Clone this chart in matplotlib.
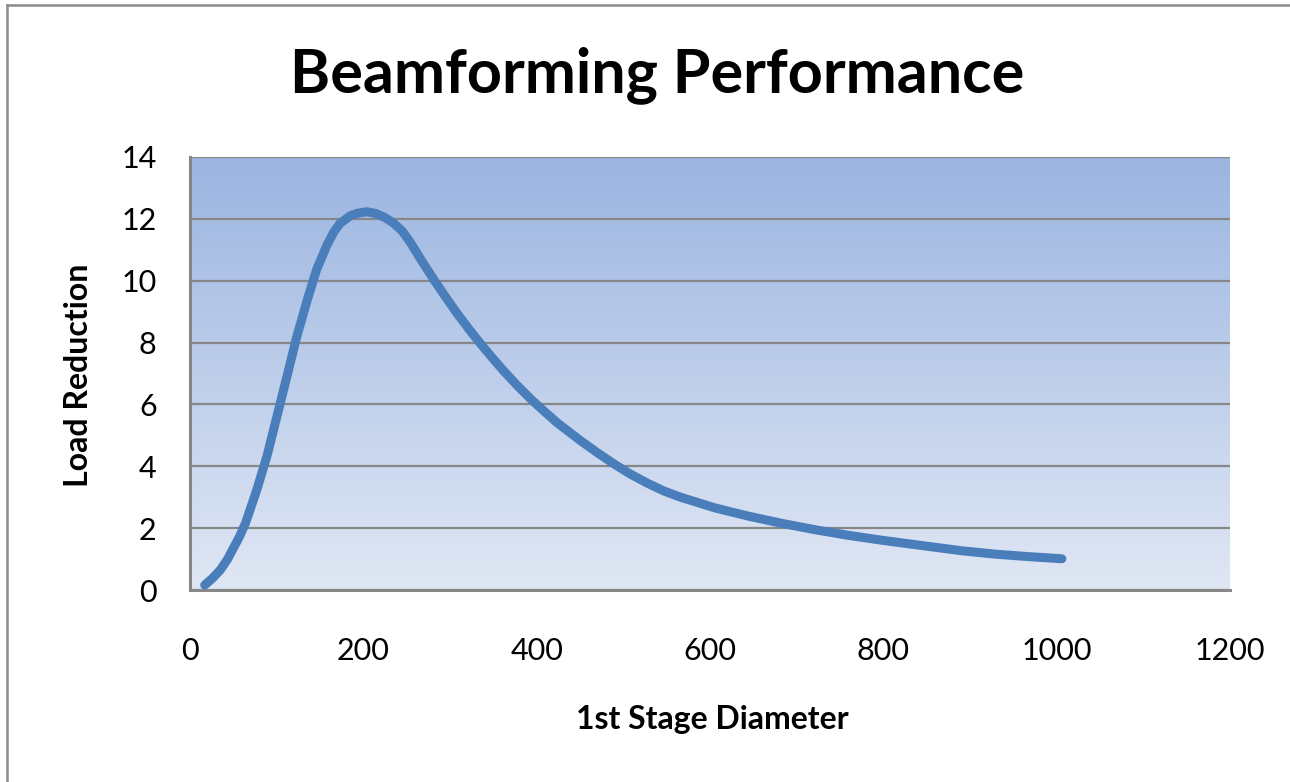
import matplotlib
matplotlib.use("Agg")
import matplotlib.pyplot as plt
import numpy as np
from matplotlib.colors import LinearSegmentedColormap
from matplotlib.lines import Line2D

# ── Data ──────────────────────────────────────────────────────────────────────
diameter = [17, 26, 35, 43, 50, 57, 64, 77, 89, 100, 112, 123, 135, 146, 158, 166,
            173, 185, 193, 204, 215, 225, 235, 245, 254, 267, 281, 295, 308, 322,
            335, 349, 362, 378, 393, 409, 424, 451, 470, 489, 508, 528, 547, 566,
            605, 644, 682, 721, 759, 798, 852, 890, 929, 967, 1006]
load_reduction = [0.16, 0.38, 0.65, 0.98, 1.35, 1.72, 2.16, 3.23, 4.35, 5.58, 6.92,
                  8.17, 9.35, 10.35, 11.15, 11.58, 11.85, 12.10, 12.18, 12.23, 12.17,
                  12.04, 11.86, 11.60, 11.25, 10.66, 10.05, 9.47, 8.95, 8.43, 7.97,
                  7.50, 7.08, 6.60, 6.18, 5.77, 5.40, 4.82, 4.44, 4.08, 3.75, 3.45,
                  3.20, 3.00, 2.66, 2.39, 2.16, 1.95, 1.77, 1.61, 1.41, 1.27, 1.16,
                  1.08, 1.01]
x_ticks = [0, 200, 400, 600, 800, 1000, 1200]
y_ticks = [0, 2, 4, 6, 8, 10, 12, 14]

# ── Style ─────────────────────────────────────────────────────────────────────
LINE_COLOR = "#4a7ebb"
GRID_COLOR = "#878787"
TOP_BG = "#9bb5e1"
BOTTOM_BG = "#e0e7f4"
FONT = ["Lato", "DejaVu Sans"]

fig = plt.figure(figsize=(12.9, 7.82), dpi=100)
fig.patch.set_facecolor("white")
ax = fig.add_axes([190 / 1290, 1 - 590 / 782, 1040 / 1290, 433 / 782])

# gradient background
cmap = LinearSegmentedColormap.from_list("bg", [BOTTOM_BG, TOP_BG])
grad = np.linspace(0, 1, 256).reshape(-1, 1)
ax.imshow(grad, cmap=cmap, aspect="auto", origin="lower",
          extent=[0, 1, 0, 1], transform=ax.transAxes, zorder=0)

ax.plot(diameter, load_reduction, color=LINE_COLOR, linewidth=6.5,
        solid_capstyle="round", solid_joinstyle="round", zorder=3)

ax.set_xlim(0, 1200)
ax.set_ylim(0, 14)
ax.set_xticks(x_ticks)
ax.set_yticks(y_ticks)
ax.yaxis.grid(True, color=GRID_COLOR, linewidth=1.6, zorder=1)
ax.set_axisbelow(True)
ax.tick_params(length=0, labelsize=22, colors="black")
ax.tick_params(axis="x", pad=34)
ax.tick_params(axis="y", pad=24)
for lbl in ax.get_xticklabels() + ax.get_yticklabels():
    lbl.set_family(FONT)

ax.spines["top"].set_visible(False)
ax.spines["right"].set_visible(False)
ax.spines["left"].set_color(GRID_COLOR)
ax.spines["bottom"].set_color(GRID_COLOR)
ax.spines["left"].set_linewidth(2.2)
ax.spines["bottom"].set_linewidth(2.2)

fig.text(657 / 1290, 1 - 75 / 782, "Beamforming Performance", ha="center", va="center",
         fontsize=44, fontweight="bold", family=FONT)
fig.text(712 / 1290, 1 - 720 / 782, "1st Stage Diameter", ha="center", va="center",
         fontsize=23, fontweight="bold", family=FONT)
fig.text(78 / 1290, 1 - 375 / 782, "Load Reduction", ha="center", va="center",
         rotation=90, fontsize=23, fontweight="bold", family=FONT)

# chart frame (left and top edges visible)
fig.add_artist(Line2D([7 / 1290, 7 / 1290], [0, 1 - 5 / 782], transform=fig.transFigure,
                      color="#8c8c8c", linewidth=1.8))
fig.add_artist(Line2D([7 / 1290, 1], [1 - 5 / 782, 1 - 5 / 782], transform=fig.transFigure,
                      color="#8c8c8c", linewidth=1.8))

fig.savefig("out.png", dpi=100, facecolor="white")
